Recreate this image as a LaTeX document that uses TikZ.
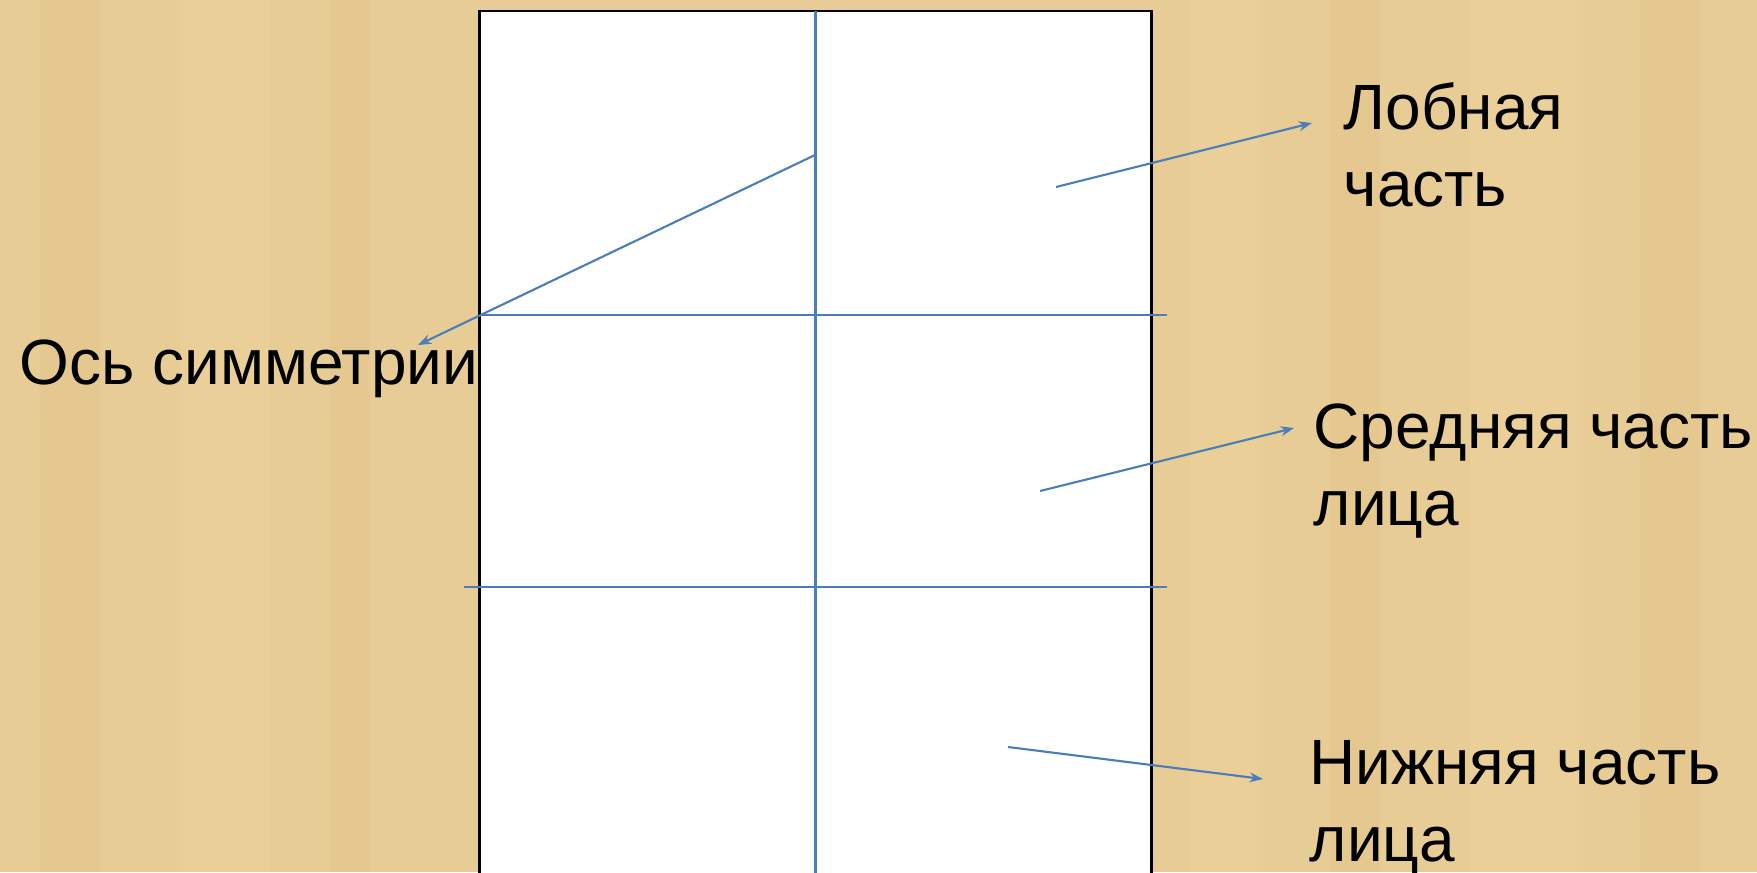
\documentclass[tikz,border=0pt]{standalone}
\usepackage{fontspec}
\setmainfont{Liberation Sans}
\usetikzlibrary{arrows.meta}

\definecolor{parchment}{RGB}{232,204,150}
\definecolor{parchdark}{RGB}{214,184,124}
\definecolor{parchlight}{RGB}{244,220,168}
\definecolor{lineblue}{RGB}{74,126,187}

\begin{document}
\begin{tikzpicture}[x=0.01cm,y=-0.01cm,>={Stealth[length=3.8pt,width=2.8pt]},
  lab/.style={font=\fontsize{18.2}{21.9}\selectfont,align=left,inner sep=0pt,anchor=base west},
  guide/.style={draw=lineblue,line width=0.7pt},
  ptr/.style={draw=lineblue,line width=0.6pt,->}]
  % background
  \useasboundingbox (0,0) rectangle (1757,872);
  \clip (0,0) rectangle (1757,872);
  \fill[parchment] (0,0) rectangle (1757,872);
  \foreach \xa/\wd/\col in {40/60/parchdark,180/90/parchlight,330/40/parchdark,1190/70/parchlight,
      1330/50/parchdark,1470/110/parchlight,1640/60/parchdark}
    \fill[\col,opacity=0.2] (\xa,0) rectangle ++(\wd,872);
  % face frame
  \draw[fill=white,line width=0.8pt] (479.6,11) rectangle (1151.6,900);
  \draw[guide] (815.7,11) -- (815.7,900);
  \draw[guide] (479.6,315) -- (1167,315);
  \draw[guide] (464,587) -- (1167,587);
  % labels (base = last line)
  \node[lab] (forehead) at (1343,206.7) {Лобная\\часть};
  \node[lab] (axis) at (19,384) {Ось симметрии};
  \node[lab] (middle) at (1313,525) {Средняя часть\\лица};
  \node[lab] (lower) at (1309,861) {Нижняя часть\\лица};
  % pointers
  \coordinate (axisS) at (815,155);     \coordinate (axisT) at (418,345);
  \coordinate (foreS) at (1056,187);    \coordinate (foreT) at (1312,123);
  \coordinate (midS) at (1040,491);     \coordinate (midT) at (1294,428);
  \coordinate (lowS) at (1008,747);     \coordinate (lowT) at (1263,779);
  \draw[ptr] (axisS) -- (axisT);
  \draw[ptr] (foreS) -- (foreT);
  \draw[ptr] (midS) -- (midT);
  \draw[ptr] (lowS) -- (lowT);
\end{tikzpicture}
\end{document}
